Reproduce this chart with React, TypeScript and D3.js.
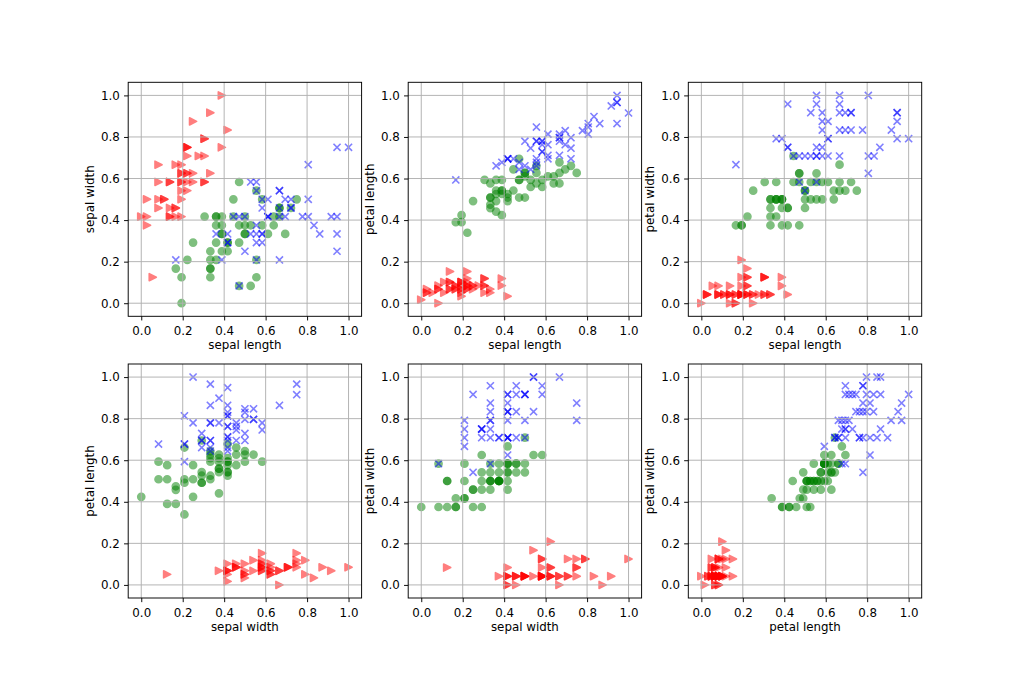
import React, { useEffect, useRef } from "react";
import * as d3 from "d3";

// iris measurements: sepal length, sepal width, petal length, petal width (cm)
const setosa: number[][] = [
  [5.1, 3.5, 1.4, 0.2], [4.9, 3.0, 1.4, 0.2], [4.7, 3.2, 1.3, 0.2], [4.6, 3.1, 1.5, 0.2],
  [5.0, 3.6, 1.4, 0.2], [5.4, 3.9, 1.7, 0.4], [4.6, 3.4, 1.4, 0.3], [5.0, 3.4, 1.5, 0.2],
  [4.4, 2.9, 1.4, 0.2], [4.9, 3.1, 1.5, 0.1], [5.4, 3.7, 1.5, 0.2], [4.8, 3.4, 1.6, 0.2],
  [4.8, 3.0, 1.4, 0.1], [4.3, 3.0, 1.1, 0.1], [5.8, 4.0, 1.2, 0.2], [5.7, 4.4, 1.5, 0.4],
  [5.4, 3.9, 1.3, 0.4], [5.1, 3.5, 1.4, 0.3], [5.7, 3.8, 1.7, 0.3], [5.1, 3.8, 1.5, 0.3],
  [5.4, 3.4, 1.7, 0.2], [5.1, 3.7, 1.5, 0.4], [4.6, 3.6, 1.0, 0.2], [5.1, 3.3, 1.7, 0.5],
  [4.8, 3.4, 1.9, 0.2], [5.0, 3.0, 1.6, 0.2], [5.0, 3.4, 1.6, 0.4], [5.2, 3.5, 1.5, 0.2],
  [5.2, 3.4, 1.4, 0.2], [4.7, 3.2, 1.6, 0.2], [4.8, 3.1, 1.6, 0.2], [5.4, 3.4, 1.5, 0.4],
  [5.2, 4.1, 1.5, 0.1], [5.5, 4.2, 1.4, 0.2], [4.9, 3.1, 1.5, 0.2], [5.0, 3.2, 1.2, 0.2],
  [5.5, 3.5, 1.3, 0.2], [4.9, 3.6, 1.4, 0.1], [4.4, 3.0, 1.3, 0.2], [5.1, 3.4, 1.5, 0.2],
  [5.0, 3.5, 1.3, 0.3], [4.5, 2.3, 1.3, 0.3], [4.4, 3.2, 1.3, 0.2], [5.0, 3.5, 1.6, 0.6],
  [5.1, 3.8, 1.9, 0.4], [4.8, 3.0, 1.4, 0.3], [5.1, 3.8, 1.6, 0.2], [4.6, 3.2, 1.4, 0.2],
  [5.3, 3.7, 1.5, 0.2], [5.0, 3.3, 1.4, 0.2],
];

const versicolor: number[][] = [
  [7.0, 3.2, 4.7, 1.4], [6.4, 3.2, 4.5, 1.5], [6.9, 3.1, 4.9, 1.5], [5.5, 2.3, 4.0, 1.3],
  [6.5, 2.8, 4.6, 1.5], [5.7, 2.8, 4.5, 1.3], [6.3, 3.3, 4.7, 1.6], [4.9, 2.4, 3.3, 1.0],
  [6.6, 2.9, 4.6, 1.3], [5.2, 2.7, 3.9, 1.4], [5.0, 2.0, 3.5, 1.0], [5.9, 3.0, 4.2, 1.5],
  [6.0, 2.2, 4.0, 1.0], [6.1, 2.9, 4.7, 1.4], [5.6, 2.9, 3.6, 1.3], [6.7, 3.1, 4.4, 1.4],
  [5.6, 3.0, 4.5, 1.5], [5.8, 2.7, 4.1, 1.0], [6.2, 2.2, 4.5, 1.5], [5.6, 2.5, 3.9, 1.1],
  [5.9, 3.2, 4.8, 1.8], [6.1, 2.8, 4.0, 1.3], [6.3, 2.5, 4.9, 1.5], [6.1, 2.8, 4.7, 1.2],
  [6.4, 2.9, 4.3, 1.3], [6.6, 3.0, 4.4, 1.4], [6.8, 2.8, 4.8, 1.4], [6.7, 3.0, 5.0, 1.7],
  [6.0, 2.9, 4.5, 1.5], [5.7, 2.6, 3.5, 1.0], [5.5, 2.4, 3.8, 1.1], [5.5, 2.4, 3.7, 1.0],
  [5.8, 2.7, 3.9, 1.2], [6.0, 2.7, 5.1, 1.6], [5.4, 3.0, 4.5, 1.5], [6.0, 3.4, 4.5, 1.6],
  [6.7, 3.1, 4.7, 1.5], [6.3, 2.3, 4.4, 1.3], [5.6, 3.0, 4.1, 1.3], [5.5, 2.5, 4.0, 1.3],
  [5.5, 2.6, 4.4, 1.2], [6.1, 3.0, 4.6, 1.4], [5.8, 2.6, 4.0, 1.2], [5.0, 2.3, 3.3, 1.0],
  [5.6, 2.7, 4.2, 1.3], [5.7, 3.0, 4.2, 1.2], [5.7, 2.9, 4.2, 1.3], [6.2, 2.9, 4.3, 1.3],
  [5.1, 2.5, 3.0, 1.1], [5.7, 2.8, 4.1, 1.3],
];

const virginica: number[][] = [
  [6.3, 3.3, 6.0, 2.5], [5.8, 2.7, 5.1, 1.9], [7.1, 3.0, 5.9, 2.1], [6.3, 2.9, 5.6, 1.8],
  [6.5, 3.0, 5.8, 2.2], [7.6, 3.0, 6.6, 2.1], [4.9, 2.5, 4.5, 1.7], [7.3, 2.9, 6.3, 1.8],
  [6.7, 2.5, 5.8, 1.8], [7.2, 3.6, 6.1, 2.5], [6.5, 3.2, 5.1, 2.0], [6.4, 2.7, 5.3, 1.9],
  [6.8, 3.0, 5.5, 2.1], [5.7, 2.5, 5.0, 2.0], [5.8, 2.8, 5.1, 2.4], [6.4, 3.2, 5.3, 2.3],
  [6.5, 3.0, 5.5, 1.8], [7.7, 3.8, 6.7, 2.2], [7.7, 2.6, 6.9, 2.3], [6.0, 2.2, 5.0, 1.5],
  [6.9, 3.2, 5.7, 2.3], [5.6, 2.8, 4.9, 2.0], [7.7, 2.8, 6.7, 2.0], [6.3, 2.7, 4.9, 1.8],
  [6.7, 3.3, 5.7, 2.1], [7.2, 3.2, 6.0, 1.8], [6.2, 2.8, 4.8, 1.8], [6.1, 3.0, 4.9, 1.8],
  [6.4, 2.8, 5.6, 2.1], [7.2, 3.0, 5.8, 1.6], [7.4, 2.8, 6.1, 1.9], [7.9, 3.8, 6.4, 2.0],
  [6.4, 2.8, 5.6, 2.2], [6.3, 2.8, 5.1, 1.5], [6.1, 2.6, 5.6, 1.4], [7.7, 3.0, 6.1, 2.3],
  [6.3, 3.4, 5.6, 2.4], [6.4, 3.1, 5.5, 1.8], [6.0, 3.0, 4.8, 1.8], [6.9, 3.1, 5.4, 2.1],
  [6.7, 3.1, 5.6, 2.4], [6.9, 3.1, 5.1, 2.3], [5.8, 2.7, 5.1, 1.9], [6.8, 3.2, 5.9, 2.3],
  [6.7, 3.3, 5.7, 2.5], [6.7, 3.0, 5.2, 2.3], [6.3, 2.5, 5.0, 1.9], [6.5, 3.0, 5.2, 2.0],
  [6.2, 3.4, 5.4, 2.3], [5.9, 3.0, 5.1, 1.8],
];

const features = ["sepal length", "sepal width", "petal length", "petal width"];
// feature index pairs (x, y) for each panel, row by row
const pairs = [[0, 1], [0, 2], [0, 3], [1, 2], [1, 3], [2, 3]];
const ticks = [0, 0.2, 0.4, 0.6, 0.8, 1.0];

const species = [
  { rows: setosa, color: "#ff0000", marker: "tri" },
  { rows: versicolor, color: "#008000", marker: "circle" },
  { rows: virginica, color: "#0000ff", marker: "x" },
];

export default function App() {
  const ref = useRef<SVGSVGElement>(null);

  useEffect(() => {
    const svg = d3.select(ref.current);
    svg.selectAll("*").remove();

    const width = 1024;
    const height = 683;
    const font = "DejaVu Sans, sans-serif";
    const fs = 11.85;
    const colLeft = [128.2, 408.2, 688.3];
    const rowTop = [82.3, 364];
    const pw = 233.4;
    const ph = 234;
    const half = 7.1 / 2; // 6pt markers
    const lw = 1.6;
    const tick = 4.15;
    const pad = 0.063; // autoscale margin around [0, 1]

    svg.append("rect").attr("width", width).attr("height", height).attr("fill", "white");

    // min-max scale every feature onto [0, 1] across all three species
    const all = [...setosa, ...versicolor, ...virginica];
    const norm = features.map((_, k) =>
      d3.scaleLinear().domain(d3.extent(all, (r) => r[k]) as [number, number]).range([0, 1])
    );

    pairs.forEach(([fx, fy], i) => {
      const left = colLeft[i % 3];
      const top = rowTop[Math.floor(i / 3)];
      const x = d3.scaleLinear().domain([-pad, 1 + pad]).range([0, pw]);
      const y = d3.scaleLinear().domain([-pad, 1 + pad]).range([ph, 0]);
      const g = svg.append("g").attr("transform", `translate(${left},${top})`);

      // points
      species.forEach((s) => {
        const pts = g.append("g");
        s.rows.forEach((r) => {
          const px = x(norm[fx](r[fx]));
          const py = y(norm[fy](r[fy]));
          if (s.marker === "circle") {
            pts.append("circle")
              .attr("cx", px).attr("cy", py).attr("r", half)
              .attr("fill", s.color).attr("stroke", s.color)
              .attr("stroke-width", lw).attr("opacity", 0.5);
          } else if (s.marker === "tri") {
            pts.append("path")
              .attr("transform", `translate(${px},${py})`)
              .attr("d", `M${half},0L${-half},${-half}L${-half},${half}Z`)
              .attr("fill", s.color).attr("stroke", s.color)
              .attr("stroke-width", lw).attr("stroke-linejoin", "round")
              .attr("opacity", 0.5);
          } else {
            pts.append("path")
              .attr("transform", `translate(${px},${py})`)
              .attr("d", `M${-half},${-half}L${half},${half}M${-half},${half}L${half},${-half}`)
              .attr("fill", "none").attr("stroke", s.color)
              .attr("stroke-width", lw).attr("opacity", 0.5);
          }
        });
      });

      // grid
      const grid = g.append("g").attr("stroke", "#b0b0b0").attr("stroke-width", 0.95);
      ticks.forEach((t) => {
        grid.append("line").attr("x1", x(t)).attr("x2", x(t)).attr("y1", 0).attr("y2", ph);
        grid.append("line").attr("x1", 0).attr("x2", pw).attr("y1", y(t)).attr("y2", y(t));
      });

      // axes
      const xa = g.append("g")
        .attr("transform", `translate(0,${ph})`)
        .call(d3.axisBottom(x).tickValues(ticks).tickFormat(d3.format(".1f")).tickSize(tick).tickPadding(tick));
      const ya = g.append("g")
        .call(d3.axisLeft(y).tickValues(ticks).tickFormat(d3.format(".1f")).tickSize(tick).tickPadding(tick));
      [xa, ya].forEach((a) => {
        a.select(".domain").remove();
        a.selectAll("line").attr("stroke", "#000").attr("stroke-width", 0.95);
        a.selectAll("text").attr("font-family", font).attr("font-size", fs).attr("fill", "#000");
      });
      xa.selectAll("text").attr("dy", "0.87em");

      g.append("rect")
        .attr("width", pw).attr("height", ph)
        .attr("fill", "none").attr("stroke", "#000").attr("stroke-width", 0.95);

      g.append("text")
        .attr("x", pw / 2).attr("y", ph + 32.5)
        .attr("text-anchor", "middle")
        .attr("font-family", font).attr("font-size", fs)
        .text(features[fx]);

      g.append("text")
        .attr("transform", `translate(-34,${ph / 2}) rotate(-90)`)
        .attr("text-anchor", "middle")
        .attr("font-family", font).attr("font-size", fs)
        .text(features[fy]);
    });
  }, []);

  return (
    <svg
      ref={ref}
      width={1024}
      height={683}
      style={{ position: "absolute", left: 0, top: 0 }}
    />
  );
}
